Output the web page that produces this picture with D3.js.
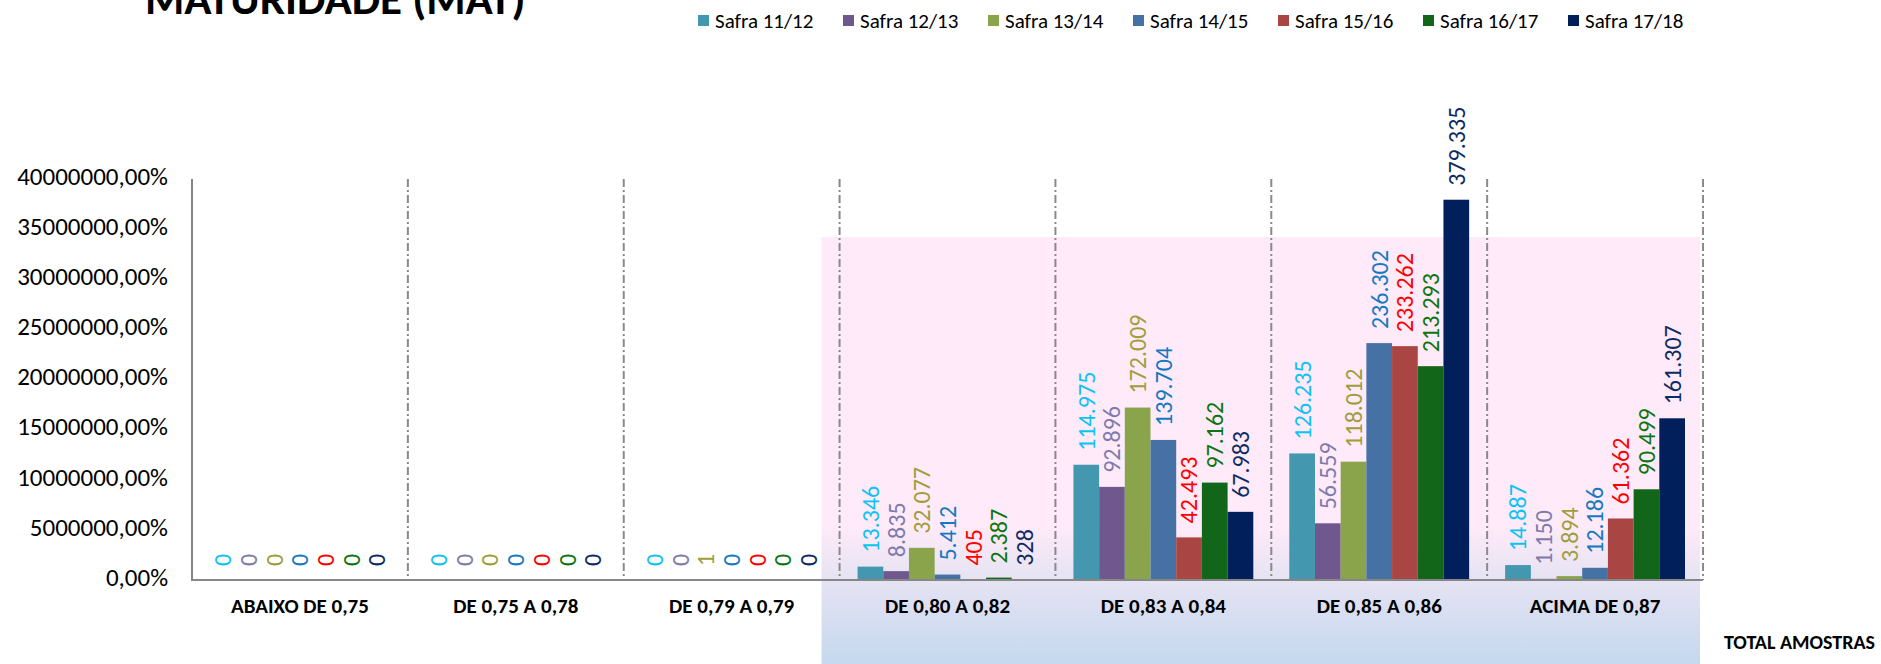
<!DOCTYPE html>
<html>
<head>
<meta charset="utf-8">
<script src="https://cdn.jsdelivr.net/npm/d3@7"></script>
<style>
    html, body { margin: 0; padding: 0; background: #fff; overflow: hidden; }
    svg { display: block; font-family: Carlito, Lato, "Open Sans", sans-serif; }
</style>
</head>
<body>
<div id="chart"></div>
<script>
'use strict';

// Categories (x axis) and series values
var categories = [
    'ABAIXO DE 0,75', 'DE 0,75 A 0,78', 'DE 0,79 A 0,79', 'DE 0,80 A 0,82',
    'DE 0,83 A 0,84', 'DE 0,85 A 0,86', 'ACIMA DE 0,87'
];
var seriesNames = ['Safra 11/12', 'Safra 12/13', 'Safra 13/14', 'Safra 14/15', 'Safra 15/16', 'Safra 16/17', 'Safra 17/18'];

var safra1112 = [0, 0, 0, 13346, 114975, 126235, 14887];
var safra1213 = [0, 0, 0, 8835, 92896, 56559, 1150];
var safra1314 = [0, 0, 1, 32077, 172009, 118012, 3894];
var safra1415 = [0, 0, 0, 5412, 139704, 236302, 12186];
var safra1516 = [0, 0, 0, 405, 42493, 233262, 61362];
var safra1617 = [0, 0, 0, 2387, 97162, 213293, 90499];
var safra1718 = [0, 0, 0, 328, 67983, 379335, 161307];

var yTicks = [0, 50000, 100000, 150000, 200000, 250000, 300000, 350000, 400000];

var barColors   = ['#4397ae', '#6f588e', '#8aa44b', '#4671a5', '#a94543', '#12661a', '#001f5b'];
var labelColors = ['#0cc3f5', '#7d7bab', '#9e9e3c', '#1479c2', '#ff0000', '#0a760f', '#0d2a66'];

var seriesValues = [safra1112, safra1213, safra1314, safra1415, safra1516, safra1617, safra1718];

var width  = 1881,
    height = 664,
    margin = {top: 179, left: 192, right: 178, bottom: 84};

var ptBr = d3.formatLocale({decimal: ',', thousands: '.', grouping: [3], currency: ['', '']});
var fmtCount = ptBr.format(',d');
var fmtPct = function (v) { return ptBr.format('.2f')(v * 100) + '%'; };

var svg = d3.select('#chart').append('svg')
    .attr('width', width)
    .attr('height', height);

var x = d3.scaleBand()
    .domain(categories)
    .range([margin.left, width - margin.right]);

var xInner = d3.scaleBand()
    .domain(seriesNames)
    .range([18, x.bandwidth() - 18]);

var y = d3.scaleLinear()
    .domain([0, 400000])
    .range([height - margin.bottom, margin.top]);

// highlighted background behind the last categories
var defs = svg.append('defs');
var grad = defs.append('linearGradient')
    .attr('id', 'hl')
    .attr('x1', 0).attr('y1', 0).attr('x2', 0).attr('y2', 1);
grad.append('stop').attr('offset', 0).attr('stop-color', '#feeaf8');
grad.append('stop').attr('offset', 0.68).attr('stop-color', '#feeaf8');
grad.append('stop').attr('offset', 0.8).attr('stop-color', '#e6e3f3');
grad.append('stop').attr('offset', 1).attr('stop-color', '#c5d8ee');

svg.append('rect')
    .attr('x', x(categories[3]) - 18)
    .attr('y', 237)
    .attr('width', x.range()[1] - 3 - (x(categories[3]) - 18))
    .attr('height', height - 237)
    .attr('fill', 'url(#hl)');

// title (cut off at the top, as in the original)
svg.append('text')
    .attr('x', 145)
    .attr('y', 14)
    .style('font-size', '45px')
    .style('font-weight', 'bold')
    .attr('fill', '#000')
    .text('MATURIDADE (MAT)');

// legend
var legend = svg.append('g')
    .attr('transform', 'translate(698,0)');

var li = legend.selectAll('.item')
    .data(seriesNames)
    .enter().append('g')
    .attr('class', 'item')
    .attr('transform', function (d, i) { return 'translate(' + (i * 145) + ',0)'; });

li.append('rect')
    .attr('x', 0)
    .attr('y', 15)
    .attr('width', 11)
    .attr('height', 11)
    .attr('fill', function (d, i) { return barColors[i]; });

li.append('text')
    .attr('x', 17)
    .attr('y', 28)
    .style('font-size', '21px')
    .attr('fill', '#000')
    .text(function (d) { return d; });

// y axis tick labels
svg.append('g').selectAll('text')
    .data(yTicks)
    .enter().append('text')
    .attr('x', 168)
    .attr('y', function (d) { return y(d) - 3; })
    .attr('dy', '0.35em')
    .attr('text-anchor', 'end')
    .style('font-size', '25px')
    .attr('fill', '#000')
    .text(fmtPct);

// category separators (dash-dot)
svg.append('g').selectAll('line')
    .data(categories)
    .enter().append('line')
    .attr('x1', function (d) { return x(d) + x.bandwidth(); })
    .attr('x2', function (d) { return x(d) + x.bandwidth(); })
    .attr('y1', y(400000))
    .attr('y2', y(0))
    .attr('stroke', '#8a8a8a')
    .attr('stroke-width', 2)
    .attr('stroke-dasharray', '8,3,2,3');

// bars
var groups = svg.append('g').selectAll('.cat')
    .data(categories)
    .enter().append('g')
    .attr('class', 'cat')
    .attr('transform', function (d) { return 'translate(' + x(d) + ',0)'; });

var cells = groups.selectAll('.bar')
    .data(function (d, ci) {
        return seriesNames.map(function (s, si) {
            return {series: s, idx: si, value: seriesValues[si][ci]};
        });
    })
    .enter().append('g')
    .attr('class', 'bar');

cells.append('rect')
    .attr('x', function (d) { return xInner(d.series); })
    .attr('y', function (d) { return y(d.value); })
    .attr('width', xInner.bandwidth())
    .attr('height', function (d) { return y(0) - y(d.value); })
    .attr('fill', function (d) { return barColors[d.idx]; });

cells.append('text')
    .attr('transform', function (d) {
        return 'translate(' + (xInner(d.series) + xInner.bandwidth() / 2) + ',' + (y(d.value) - 14) + ') rotate(-90)';
    })
    .attr('dy', '0.35em')
    .attr('text-anchor', 'start')
    .style('font-size', '24px')
    .attr('fill', function (d) { return labelColors[d.idx]; })
    .text(function (d) { return fmtCount(d.value); });

// axes lines
svg.append('line')
    .attr('x1', margin.left).attr('x2', margin.left)
    .attr('y1', y(400000)).attr('y2', y(0))
    .attr('stroke', '#868686').attr('stroke-width', 2);

svg.append('line')
    .attr('x1', margin.left - 1).attr('x2', x.range()[1])
    .attr('y1', y(0)).attr('y2', y(0))
    .attr('stroke', '#868686').attr('stroke-width', 2);

// category labels
svg.append('g').selectAll('text')
    .data(categories)
    .enter().append('text')
    .attr('x', function (d) { return x(d) + x.bandwidth() / 2; })
    .attr('y', 606)
    .attr('dy', '0.35em')
    .attr('text-anchor', 'middle')
    .style('font-size', '21px')
    .style('font-weight', 'bold')
    .attr('fill', '#000')
    .text(function (d) { return d; });

svg.append('text')
    .attr('x', 1724)
    .attr('y', 642)
    .attr('dy', '0.35em')
    .style('font-size', '20px')
    .style('font-weight', 'bold')
    .attr('fill', '#000')
    .text('TOTAL AMOSTRAS');
</script>
</body>
</html>
